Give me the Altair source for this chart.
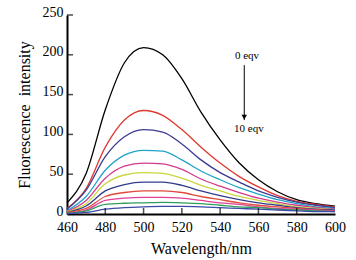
import altair as alt
import pandas as pd

wavelengths = [460, 470, 480, 490, 500, 510, 520, 530, 540, 550, 560, 570, 580, 590, 600]

s0 = [14, 51, 131, 190, 209, 200, 170, 128, 93, 64, 43, 28, 18, 13, 10]
s1 = [7, 32, 84, 118, 130, 124, 106, 84, 64, 47, 34, 23, 16, 12, 9]
s2 = [6, 30, 72, 97, 106, 103, 88, 68, 52, 40, 29, 21, 15, 11, 8]
s3 = [4, 22, 55, 74, 80, 79, 68, 54, 43, 33, 25, 18, 13, 9, 7]
s4 = [3, 17, 45, 60, 64, 63, 56, 44, 35, 27, 20, 15, 11, 8, 6]
s5 = [3, 13, 38, 49, 52, 51, 45, 36, 29, 22, 17, 13, 9, 7, 5]
s6 = [2, 10, 29, 37, 40, 40, 36, 29, 23, 18, 14, 11, 8, 6, 5]
s7 = [2, 7, 22, 27, 29, 29, 27, 22, 18, 14, 11, 9, 7, 5, 4]
s8 = [1, 5, 17, 20, 21, 21, 20, 17, 14, 12, 9, 7, 6, 5, 4]
s9 = [1, 4, 12, 13.5, 14, 14.5, 14, 13, 11, 9, 8, 6, 5, 4, 3]
s10 = [0.5, 2, 6, 8, 9, 9.5, 9.5, 9, 8, 7, 6, 5, 4, 3, 3]

series = [s0, s1, s2, s3, s4, s5, s6, s7, s8, s9, s10]
names = [f"{i} eqv" for i in range(11)]
colors = ["#000000", "#e0392f", "#3b3b92", "#1fa3c6", "#d33a8e", "#c9d63c",
          "#303c8c", "#e04a3a", "#df3f97", "#2f9e5a", "#3a4aa6"]

x_ticks = [460, 480, 500, 520, 540, 560, 580, 600]
y_ticks = [0, 50, 100, 150, 200, 250]

x_title = "Wavelength/nm"
y_title = "Fluorescence\u00a0\u00a0intensity"

ann_text = ["0 eqv", "10 eqv"]
ann_x = [554, 555]
ann_y = [198, 107]
arrow_x = [552.6]
arrow_y1 = [187]
arrow_y2 = [118]

rows = []
for name, vals in zip(names, series):
    for w, v in zip(wavelengths, vals):
        rows.append({"wl": w, "val": v, "series": name})
df = pd.DataFrame(rows)

serif = "Liberation Serif"
W, H = 268, 199

xscale = alt.Scale(domain=[460, 600], nice=False, zero=False)
yscale = alt.Scale(domain=[0, 250], nice=False)

x_axis = alt.Axis(title=x_title, values=x_ticks, ticks=False,
                  labelPadding=6, titlePadding=6, grid=False, labelOverlap=False,
                  labelFlush=False, titleFontSize=16)
y_axis = alt.Axis(title=y_title, values=y_ticks, ticks=False,
                  labelPadding=4, titlePadding=10, grid=False, labelOverlap=False,
                  labelFlush=False, titleFontSize=16, labelOffset=-3)

lines = alt.Chart(df).mark_line(interpolate="monotone", strokeWidth=1.3).encode(
    x=alt.X("wl:Q", scale=xscale, axis=x_axis, title=x_title),
    y=alt.Y("val:Q", scale=yscale, axis=y_axis, title=y_title),
    color=alt.Color("series:N", scale=alt.Scale(domain=names, range=colors), legend=None),
    detail="series:N",
)

xt = alt.Chart(pd.DataFrame({"t": x_ticks[1:-1]})).mark_tick(
    orient="vertical", size=6, thickness=1.5, color="black", yOffset=-3
).encode(x=alt.X("t:Q", scale=xscale, axis=x_axis, title=x_title),
         y=alt.datum(0, axis=y_axis, title=y_title))

yt = alt.Chart(pd.DataFrame({"t": y_ticks[1:]})).mark_tick(
    orient="horizontal", size=6, thickness=1.5, color="black", xOffset=3
).encode(y=alt.Y("t:Q", scale=yscale, axis=y_axis, title=y_title),
         x=alt.datum(460, axis=x_axis, title=x_title))

ann = alt.Chart(pd.DataFrame({"x": ann_x, "y": ann_y, "t": ann_text})).mark_text(
    font=serif, fontSize=11, color="black", baseline="middle"
).encode(x=alt.X("x:Q", scale=xscale, axis=x_axis, title=x_title),
         y=alt.Y("y:Q", scale=yscale, axis=y_axis, title=y_title),
         text="t:N")

arr_df = pd.DataFrame({"x": arrow_x, "y1": arrow_y1, "y2": arrow_y2})
arrow = alt.Chart(arr_df).mark_rule(color="black", strokeWidth=1).encode(
    x=alt.X("x:Q", scale=xscale, axis=x_axis, title=x_title),
    y=alt.Y("y1:Q", scale=yscale, axis=y_axis, title=y_title),
    y2="y2:Q")
head = alt.Chart(arr_df).mark_point(shape="triangle-down", filled=True, color="black",
                                    size=30, opacity=1, yOffset=-3).encode(
    x=alt.X("x:Q", scale=xscale, axis=x_axis, title=x_title),
    y=alt.Y("y2:Q", scale=yscale, axis=y_axis, title=y_title))

chart = alt.layer(lines, xt, yt, arrow, head, ann).properties(
    width=W, height=H,
    background="white",
    autosize=alt.AutoSizeParams(type="none"),
    padding={"left": 67, "top": 15, "right": 21, "bottom": 46},
).configure_view(stroke=None).configure_axis(
    domainColor="black", domainWidth=2, labelFont=serif, titleFont=serif,
    labelFontSize=14, titleFontWeight="normal", labelColor="black",
    titleColor="black",
)

chart.save("out.html", embed_options={"renderer": "svg", "actions": False})
